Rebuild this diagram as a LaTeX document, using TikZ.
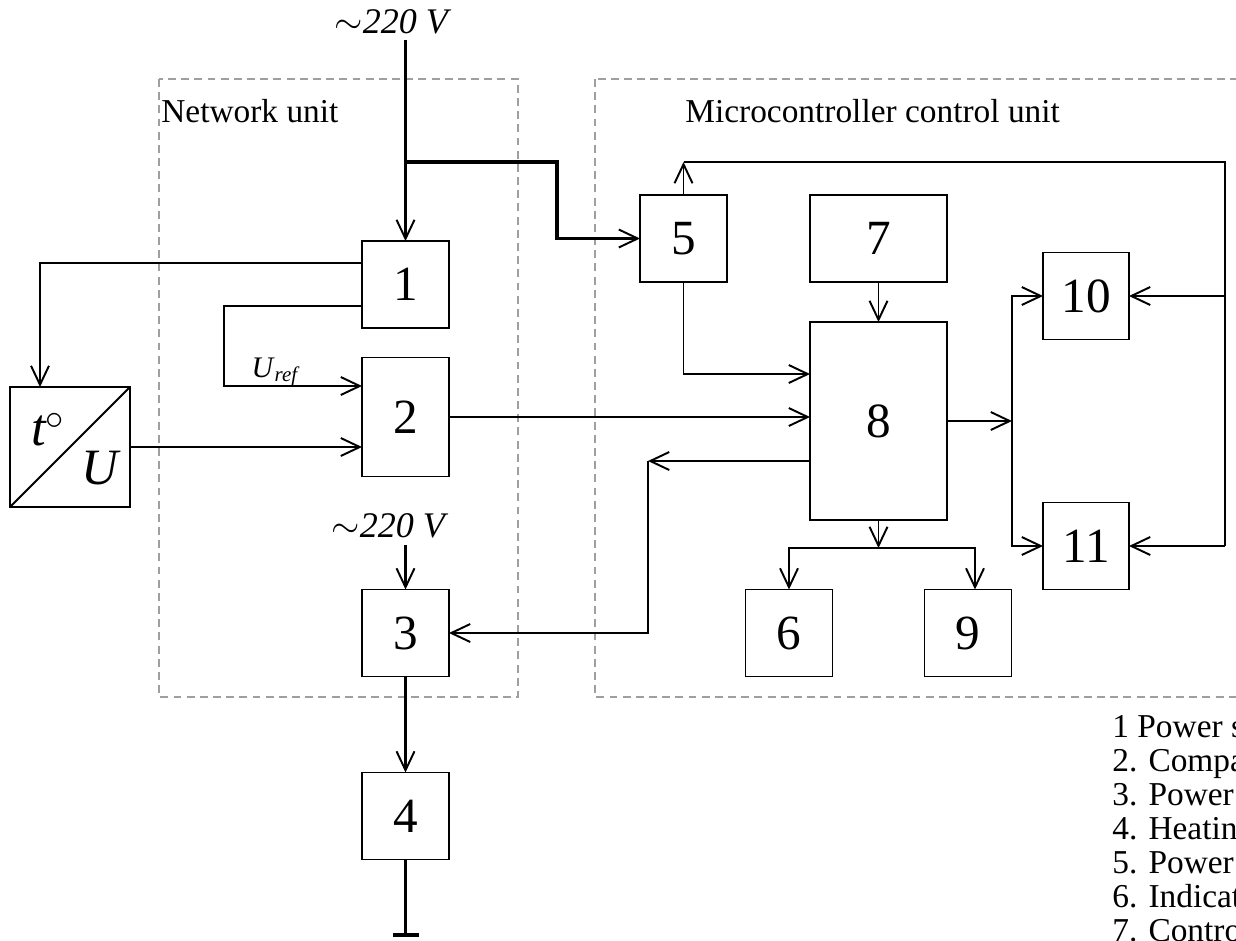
\documentclass[tikz,border=0pt]{standalone}
\usepackage{fontspec}
\setmainfont{Liberation Serif}
\usetikzlibrary{arrows.meta}

\begin{document}
\begin{tikzpicture}[x=0.02cm,y=-0.02cm,
	blk/.style={draw,line width=1.1pt,inner sep=0pt,outer sep=0pt,
		minimum width=1.74cm,minimum height=1.74cm,
		font=\fontsize{28}{30}\selectfont},
	arr/.style={line width=1.1pt,-{Straight Barb[length=0.38cm,width=0.36cm,line width=1.1pt]}},
	wire/.style={line width=1.1pt},
	power/.style={line width=2pt},
	unit/.style={draw=gray!75,line width=0.8pt,dash pattern=on 4.5pt off 3pt},
	lbl/.style={font=\fontsize{19}{20}\selectfont,inner sep=0pt}]
	\newcommand\supply{$\sim$\textit{220 V}};

	\useasboundingbox (0,0) rectangle (1236,940);
	\clip (0,0) rectangle (1236,940);

	\draw[unit] (159,79) rectangle (518,697);
	\draw[unit] (595,79) rectangle (1300,697);
	\node[lbl,anchor=base west] (netlbl) at (161,122) {Network unit};
	\node[lbl,anchor=base west] (mculbl) at (685,122) {Microcontroller control unit};

	\node[blk] (b1) at (405.5,284.5) {1};
	\node[blk,minimum height=2.38cm] (b2) at (405.5,417) {2};
	\node[blk] (b3) at (405.5,633) {3};
	\node[blk] (b4) at (405.5,816) {4};
	\node[blk] (b5) at (683.5,238.5) {5};
	\node[blk] (b6) at (789,633) {6};
	\node[blk,minimum width=2.74cm] (b7) at (878.5,238.5) {7};
	\node[blk,minimum width=2.74cm,minimum height=3.96cm] (b8) at (878.5,421) {8};
	\node[blk] (b9) at (968,633) {9};
	\node[blk,minimum width=1.72cm] (b10) at (1086,296) {10};
	\node[blk,minimum width=1.72cm] (b11) at (1086,546) {11};

	\node[blk,minimum width=2.4cm,minimum height=2.4cm] (tU) at (70,447) {};
	\draw[wire] (tU.south west) -- (tU.north east);
	\node[font=\fontsize{30}{32}\selectfont\itshape] (tlbl) at (48,430) {t$^{\circ}$};
	\node[font=\fontsize{29}{31}\selectfont\itshape] (Ulbl) at (100,468) {U};

	\node[lbl,font=\fontsize{20.5}{22}\selectfont,anchor=base] (sup1) at (393,33) {\supply};
	\node[lbl,font=\fontsize{20.5}{22}\selectfont,anchor=base] (sup2) at (390,537) {\supply};
	\node[font=\fontsize{17}{20}\selectfont] (ureflbl) at (276,372) {\textit{U}\textsubscript{\textit{ref}}};

	\coordinate (in1) at (405.5,40);
	\coordinate (split) at (405.5,162);
	\coordinate (bend) at (557,162);
	\coordinate (in2) at (405.5,545);
	\coordinate (gnd) at (405.5,935);
	\coordinate (tap1) at (362,263);
	\coordinate (tap2) at (362,306);
	\coordinate (tUin) at (40,387);
	\coordinate (uref) at (224,386);
	\coordinate (fb) at (810,461);
	\coordinate (fbk) at (648,461);
	\coordinate (b8in) at (810,374);
	\coordinate (loopa) at (683.5,162);
	\coordinate (rtop) at (1225,162);
	\coordinate (r10) at (1225,296);
	\coordinate (r11) at (1225,546);
	\coordinate (sp) at (1012,421);
	\coordinate (bs) at (878.5,548);

	\draw[power,arr,line width=2pt] (in1) -- (b1);
	\draw[power,arr,line width=2pt] (split) -- (bend) |- (b5);
	\draw[power,arr,line width=2pt] (in2) -- (b3);
	\draw[power,arr,line width=2pt] (b3) -- (b4);
	\draw[power] (b4) -- (gnd);
	\draw[power] ([xshift=-0.26cm]gnd) -- ([xshift=0.26cm]gnd);

	\draw[arr] (tap1) -| (tUin);
	\draw[arr] (tap2) -| (uref) -- (b2.west |- uref);
	\draw[arr] (tU) -- (b2.west |- tU);
	\draw[arr] (b2) -- (b8.west |- b2);
	\draw[arr] (fb) -- (fbk);
	\draw[arr] (fbk) |- (b3);
	\draw[arr] (b5) |- (b8in);
	\draw[arr] (b5) -- (loopa);
	\draw[wire] (loopa) -- (rtop) -- (r11);
	\draw[arr] (r10) -- (b10);
	\draw[arr] (r11) -- (b11);
	\draw[arr] (b7) -- (b8);
	\draw[arr] (b8) -- (sp);
	\draw[arr] (sp) |- (b10);
	\draw[arr] (sp) |- (b11);
	\draw[arr] (b8) -- (bs);
	\draw[arr] (bs) -| (b6);
	\draw[arr] (bs) -| ([xshift=0.14cm]b9.north);

	\foreach \txt [count=\i] in {1 Power supply,2. Comparator,3. Power switch,4. Heating element,5. Power supply,6. Indicator,7. Control keys}
		\node[lbl,anchor=base west] (leg\i) at (1112,{737+34*(\i-1)}) {\txt};
\end{tikzpicture}
\end{document}
